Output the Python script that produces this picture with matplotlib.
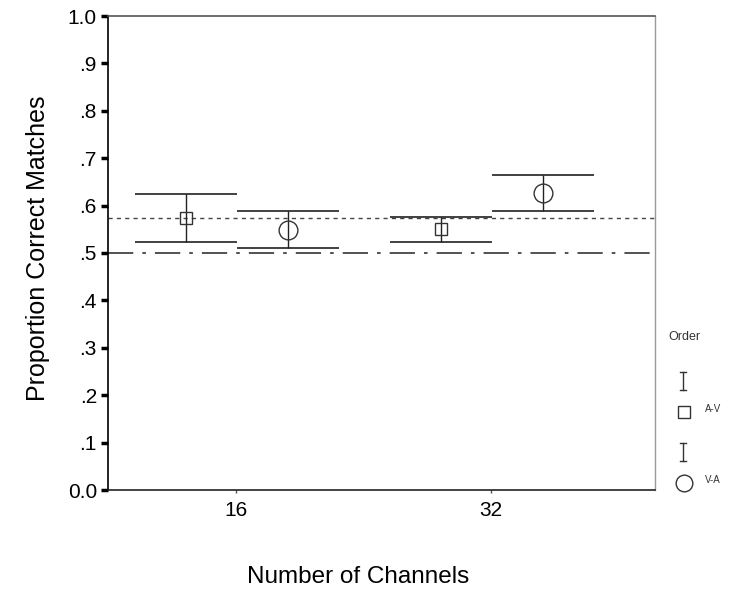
import matplotlib
matplotlib.use("Agg")
import matplotlib.pyplot as plt
import numpy as np

plt.rcParams['font.family'] = ['Liberation Sans', 'DejaVu Sans']

categories = ["16", "32"]
orders = ["A-V", "V-A"]
means = {"A-V": [0.574, 0.550], "V-A": [0.549, 0.626]}
upper = {"A-V": [0.624, 0.577], "V-A": [0.589, 0.665]}
lower = {"A-V": [0.523, 0.523], "V-A": [0.510, 0.589]}
grand_mean = 0.573
chance = 0.5
y_ticks = [0.0, 0.1, 0.2, 0.3, 0.4, 0.5, 0.6, 0.7, 0.8, 0.9, 1.0]
y_ticklabels = ["0.0", ".1", ".2", ".3", ".4", ".5", ".6", ".7", ".8", ".9", "1.0"]

markers = {"A-V": "s", "V-A": "o"}
msize = {"A-V": 9, "V-A": 13.5}
offsets = {"A-V": -0.196, "V-A": 0.204}
cap_half = 0.2

fig = plt.figure(figsize=(7.3, 5.91), dpi=100)
ax = fig.add_axes([108/730, 1 - 490/591, (655-108)/730, (490-16)/591])

x = np.arange(len(categories))
for o in orders:
    xs = x + offsets[o]
    ax.hlines(upper[o], xs - cap_half, xs + cap_half, color="#333333", lw=1.3, zorder=3)
    ax.hlines(lower[o], xs - cap_half, xs + cap_half, color="#333333", lw=1.3, zorder=3)
    ax.vlines(xs, lower[o], upper[o], color="#222222", lw=1.0, zorder=3)
    ax.plot(xs, means[o], linestyle="none", marker=markers[o], markersize=msize[o],
            markerfacecolor="none", markeredgecolor="#333333", markeredgewidth=1.0, zorder=4)

ax.axhline(grand_mean, color="#444444", lw=1.0, linestyle=(0, (3, 3)), zorder=2)
ax.axhline(chance, color="#444444", lw=1.3, linestyle=(0, (14, 5, 2, 5)), zorder=2)

ax.set_xlim(-0.502, 1.643)
ax.set_ylim(0, 1.0)
ax.set_xticks(x)
ax.set_xticklabels(categories, fontsize=15)
ax.set_yticks(y_ticks)
ax.set_yticklabels(y_ticklabels, fontsize=15)
ax.tick_params(axis="y", direction="out", length=5, width=2.5, color="black", pad=3)
ax.tick_params(axis="x", direction="out", length=2, width=1, color="#555555", pad=6)

ax.spines["left"].set_color("black")
ax.spines["left"].set_linewidth(1.2)
ax.spines["bottom"].set_color("#222222")
ax.spines["bottom"].set_linewidth(1.2)
ax.spines["top"].set_color("#555555")
ax.spines["top"].set_linewidth(1.2)
ax.spines["right"].set_color("#999999")
ax.spines["right"].set_linewidth(1.0)
ax.spines["right"].set_linestyle((0, (2, 1)))

ax.set_ylabel("Proportion Correct Matches", fontsize=18, labelpad=13, y=0.51)
ax.set_xlabel("Number of Channels", fontsize=17.5, labelpad=33, x=0.457)

# legend drawn in a small overlay axes
lax = fig.add_axes([660/730, 1 - 500/591, 70/730, 180/591])
lax.set_xlim(0, 70)
lax.set_ylim(180, 0)
lax.axis("off")
lax.text(8, 17, "Order", fontsize=9, color="#333333", va="center", ha="left")
for o, yb in zip(orders, [61, 132]):
    lax.plot([23, 23], [yb - 9, yb + 9], color="#333333", lw=1.0)
    lax.plot([20, 26], [yb - 9, yb - 9], color="#333333", lw=1.0)
    lax.plot([20, 26], [yb + 9, yb + 9], color="#333333", lw=1.0)
    lax.plot([24], [yb + 31], marker=markers[o], markersize=msize[o] if o == "A-V" else 12,
             markerfacecolor="none", markeredgecolor="#333333", markeredgewidth=1.0)
    lax.text(45, yb + 28, o, fontsize=7, color="#333333", va="center", ha="left")

fig.savefig("out.png", dpi=100)
